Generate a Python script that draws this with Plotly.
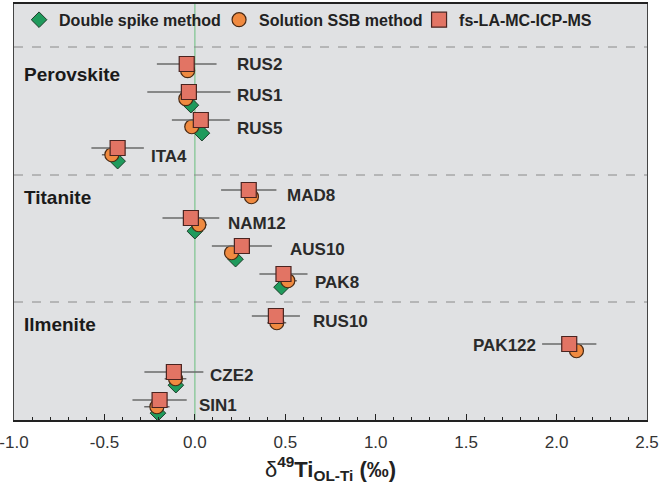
import plotly.graph_objects as go

# ---- data ----
groups = ["Perovskite", "Titanite", "Ilmenite"]
samples = [["RUS2", "RUS1", "RUS5", "ITA4"],
           ["MAD8", "NAM12", "AUS10", "PAK8"],
           ["RUS10", "PAK122", "CZE2", "SIN1"]]
la_vals = [-0.045, -0.033, 0.033, -0.427, 0.298, -0.022, 0.26, 0.49, 0.448, 2.07, -0.116, -0.195]
la_err = [0.165, 0.23, 0.16, 0.145, 0.153, 0.157, 0.166, 0.133, 0.133, 0.15, 0.163, 0.15]
ssb_vals = [-0.04, -0.05, -0.017, -0.459, 0.313, 0.022, 0.203, 0.514, 0.453, 2.11, -0.107, -0.21]
ssb_err = [0.02, 0.03, 0.04, 0.055, 0.03, 0.044, 0.033, 0.05, 0.052, 0.03, 0.06, 0.07]
ds_vals = [None, -0.022, 0.039, -0.427, None, 0.0, 0.225, 0.479, None, None, -0.105, -0.204]
tick_vals = [-1.0, -0.5, 0.0, 0.5, 1.0, 1.5, 2.0, 2.5]
tick_text = ["-1.0", "-0.5", "0.0", "0.5", "1.0", "1.5", "2.0", "2.5"]

# ---- layout helpers ----
rows, names = [], []
for gi, g in enumerate(samples):
    for i, s in enumerate(g):
        rows.append(gi * 4.5 + i)
        names.append(s)
ssb_off, ds_off = 0.24, 0.47
# label anchor positions (x in data units, y offset from row, anchor)
label_pos = {"RUS2": (0.221, 0.0, "left"), "RUS1": (0.221, 0.12, "left"),
             "RUS5": (0.221, 0.3, "left"), "ITA4": (-0.254, 0.3, "left"),
             "MAD8": (0.497, 0.18, "left"), "NAM12": (0.171, 0.18, "left"),
             "AUS10": (0.514, 0.14, "left"), "PAK8": (0.652, 0.32, "left"),
             "RUS10": (0.641, 0.18, "left"), "PAK122": (1.895, 0.04, "right"),
             "CZE2": (0.072, 0.14, "left"), "SIN1": (0.011, 0.2, "left")}

FONT = "Liberation Sans, Arial, sans-serif"

fig = go.Figure()
ds_x = [v for v in ds_vals if v is not None]
ds_y = [r + ds_off for r, v in zip(rows, ds_vals) if v is not None]
fig.add_trace(go.Scatter(
    x=ds_x, y=ds_y, mode="markers", name="Double spike method",
    marker=dict(symbol="diamond", size=12, color="#1f9a5c",
                line=dict(color="#1d3d2a", width=1))))
fig.add_trace(go.Scatter(
    x=ssb_vals, y=[r + ssb_off for r in rows], mode="markers", name="Solution SSB method",
    error_x=dict(type="data", array=ssb_err, color="#6a6a6a", thickness=1.5, width=0),
    marker=dict(symbol="circle", size=14, color="#f08a40",
                line=dict(color="#4a2a14", width=1.2))))
fig.add_trace(go.Scatter(
    x=la_vals, y=rows, mode="markers", name="fs-LA-MC-ICP-MS",
    error_x=dict(type="data", array=la_err, color="#6a6a6a", thickness=1.5, width=0),
    marker=dict(symbol="square", size=15, color="#e27464",
                line=dict(color="#4a2420", width=1.2))))

# zero line
fig.add_shape(type="line", x0=0, x1=0, y0=0, y1=1, xref="x", yref="paper",
              line=dict(color="#8fca9f", width=1.5), layer="below")
# separators
for yv in [-0.607, 3.964, 8.5]:
    fig.add_shape(type="line", x0=0, x1=1, xref="paper", y0=yv, y1=yv, yref="y",
                  line=dict(color="#8a8a8a", width=1, dash="dash"), layer="below")

annotations = []
group_y = [0.36, 4.75, 9.32]
for g, gy in zip(groups, group_y):
    annotations.append(dict(x=0.0126, xref="paper", y=gy, yref="y", text="<b>%s</b>" % g,
                            showarrow=False, xanchor="left",
                            font=dict(size=19, color="#1a1a1a", family=FONT)))
for s, r in zip(names, rows):
    lx, dy, anc = label_pos[s]
    annotations.append(dict(x=lx, y=r + dy, xref="x", yref="y", text="<b>%s</b>" % s,
                            showarrow=False, xanchor=anc,
                            font=dict(size=17, color="#2a2a2a", family=FONT)))

fig.update_layout(
    width=664, height=492,
    margin=dict(l=14, r=17, t=4, b=72, autoexpand=False),
    paper_bgcolor="white", plot_bgcolor="#e0e1e3",
    font=dict(family=FONT, color="#222"),
    showlegend=True,
    legend=dict(orientation="h", x=0.008, y=0.962, xanchor="left", yanchor="middle",
                bgcolor="rgba(0,0,0,0)", entrywidth=155, entrywidthmode="pixels",
                font=dict(size=16, color="#222", family=FONT, weight="bold"),
                traceorder="normal"),
    annotations=annotations,
    xaxis=dict(range=[-1.0, 2.5], tickmode="array", tickvals=tick_vals, ticktext=tick_text,
               ticks="inside", ticklen=6, tickwidth=1.2, tickcolor="#222",
               minor=dict(tickmode="linear", tick0=0, dtick=0.1, ticks="inside", ticklen=3,
                          tickcolor="#222", showgrid=False),
               showgrid=False, zeroline=False, showline=True, linecolor="#222", linewidth=1.5,
               mirror=True, ticklabelstandoff=6, ticklabeloverflow="allow", automargin=False,
               tickfont=dict(size=17, color="#333"),
               title=dict(text="δ<sup><b>49</b></sup><b>Ti</b><sub><b>OL-Ti</b></sub> <b>(‰)</b>",
                          font=dict(size=22, color="#222"), standoff=10)),
    yaxis=dict(range=[12.714, -2.143], showticklabels=False, ticks="", showgrid=False,
               zeroline=False, showline=True, linecolor="#444", linewidth=1.2, mirror=True,
               automargin=False),
)
fig.write_html("out.html", config={"displayModeBar": False},
               post_script="document.body.style.margin='0px';document.body.style.overflow='hidden';")
